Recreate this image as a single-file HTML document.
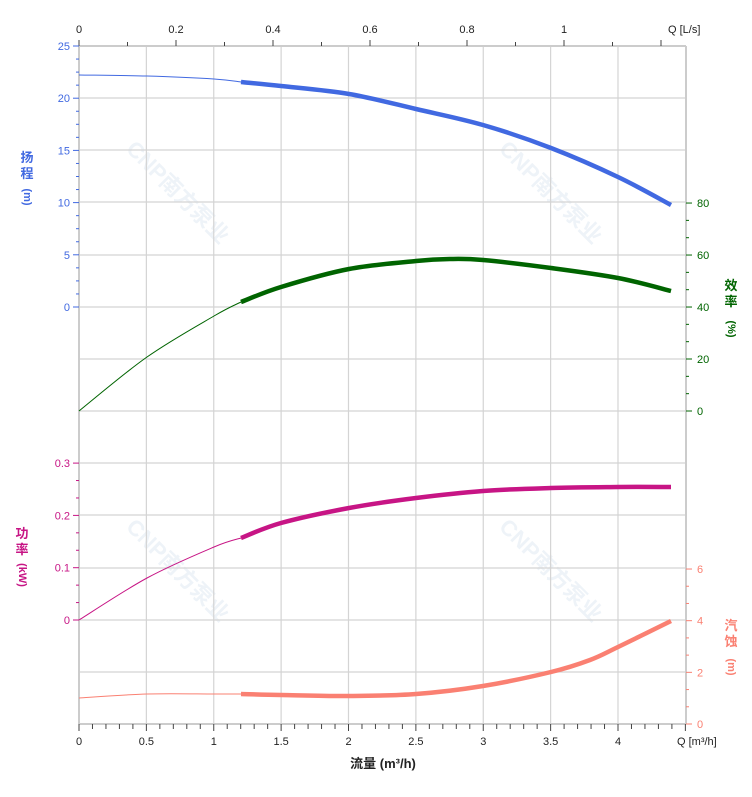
<!DOCTYPE html>
<html><head><meta charset="utf-8"><style>
body{margin:0;background:#fff;}
svg{display:block;font-family:"Liberation Sans","Noto Sans CJK SC",sans-serif;}
</style></head><body>
<svg id="s" width="752" height="797" viewBox="0 0 752 797" xmlns="http://www.w3.org/2000/svg">
<g id="wm" fill="#eef3f8" font-size="22" font-weight="bold">
<text transform="translate(125,150) rotate(45)">CNP南方泵业</text>
<text transform="translate(498,150) rotate(45)">CNP南方泵业</text>
<text transform="translate(125,528) rotate(45)">CNP南方泵业</text>
<text transform="translate(498,528) rotate(45)">CNP南方泵业</text>
</g>
<g id="grid" stroke="#d4d4d4" stroke-width="1.2"></g>
<g id="ax"></g>
<g id="curves" fill="none" stroke-linecap="butt"></g>
<g font-size="13" font-weight="bold">
<text x="27" y="162" fill="#4169e1" text-anchor="middle">扬</text>
<text x="27" y="178" fill="#4169e1" text-anchor="middle">程</text>
<text x="27" y="200" fill="#4169e1" text-anchor="middle" font-size="11" transform="rotate(90 27 197)">(m)</text>
<text x="22" y="538" fill="#c71585" text-anchor="middle">功</text>
<text x="22" y="554" fill="#c71585" text-anchor="middle">率</text>
<text x="22" y="578" fill="#c71585" text-anchor="middle" font-size="11" transform="rotate(90 22 575)">(kW)</text>
<text x="731" y="290" fill="#006400" text-anchor="middle">效</text>
<text x="731" y="306" fill="#006400" text-anchor="middle">率</text>
<text x="731" y="332" fill="#006400" text-anchor="middle" font-size="11" transform="rotate(90 731 329)">(%)</text>
<text x="731" y="630" fill="#fa8072" text-anchor="middle">汽</text>
<text x="731" y="646" fill="#fa8072" text-anchor="middle">蚀</text>
<text x="731" y="670" fill="#fa8072" text-anchor="middle" font-size="11" transform="rotate(90 731 667)">(m)</text>
<text x="383" y="768" fill="#222" text-anchor="middle">流量 (m³/h)</text>
</g>
</svg>
<script>
const NS="http://www.w3.org/2000/svg";
function el(p,t,a,txt){const e=document.createElementNS(NS,t);for(const k in a)e.setAttribute(k,a[k]);if(txt!==undefined)e.textContent=txt;document.getElementById(p).appendChild(e);return e;}
const X=q=>79+q*134.75;
[46,98,150,202,255,307,359,411,463,515,568,620,672].forEach(y=>el('grid','line',{x1:79,x2:686,y1:y,y2:y}));
for(let i=1;i<=8;i++){const x=X(i*0.5);el('grid','line',{x1:x,x2:x,y1:46,y2:724});}
el('ax','line',{x1:79,x2:79,y1:46,y2:724,stroke:'#ccc','stroke-width':2});
el('ax','line',{x1:686,x2:686,y1:46,y2:724,stroke:'#ccc','stroke-width':2});
el('ax','line',{x1:79,x2:686,y1:46,y2:46,stroke:'#ccc','stroke-width':2});
el('ax','line',{x1:79,x2:686,y1:724,y2:724,stroke:'#ccc','stroke-width':2});
for(let i=0;i<=45;i++){const x=X(i*0.1);el('ax','line',{x1:x,x2:x,y1:724,y2:i%5==0?731:729,stroke:'#444','stroke-width':1});}
['0','0.5','1','1.5','2','2.5','3','3.5','4'].forEach((t,i)=>el('ax','text',{x:X(i*0.5),y:745,'font-size':11,fill:'#222','text-anchor':'middle'},t));
el('ax','text',{x:677,y:745,'font-size':11,fill:'#222'},'Q [m³/h]');
for(let i=0;i<=12;i++){const x=79+i*48.5;el('ax','line',{x1:x,x2:x,y1:46,y2:i%2==0?40:42,stroke:'#444','stroke-width':1});}
['0','0.2','0.4','0.6','0.8','1'].forEach((t,i)=>el('ax','text',{x:79+i*97,y:33,'font-size':11,fill:'#222','text-anchor':'middle'},t));
el('ax','text',{x:668,y:33,'font-size':11,fill:'#222'},'Q [L/s]');
for(let i=0;i<=20;i++){const v=i*1.25,y=307-v*10.44;el('ax','line',{x1:i%4==0?73:76,x2:79,y1:y,y2:y,stroke:'#4169e1','stroke-width':1});if(i%4==0)el('ax','text',{x:70,y:y+4,'font-size':11,fill:'#4169e1','text-anchor':'end'},String(v));}
for(let i=0;i<=9;i++){const v=i/30,y=620-v*523;el('ax','line',{x1:i%3==0?73:76,x2:79,y1:y,y2:y,stroke:'#c71585','stroke-width':1});if(i%3==0)el('ax','text',{x:70,y:y+4,'font-size':11,fill:'#c71585','text-anchor':'end'},i==0?'0':(v.toFixed(1)));}
for(let i=0;i<=12;i++){const y=411-i*17.33;el('ax','line',{x1:686,x2:i%3==0?692:689,y1:y,y2:y,stroke:'#006400','stroke-width':1});if(i%3==0)el('ax','text',{x:697,y:y+4,'font-size':11,fill:'#006400'},String(i/3*20));}
for(let i=0;i<=9;i++){const y=724-i*17.22;el('ax','line',{x1:686,x2:i%3==0?692:689,y1:y,y2:y,stroke:'#fa8072','stroke-width':1});if(i%3==0)el('ax','text',{x:697,y:y+4,'font-size':11,fill:'#fa8072'},String(i/3*2));}
function path(pts){let d='M'+pts[0][0]+','+pts[0][1];for(let i=0;i<pts.length-1;i++){const p0=pts[Math.max(0,i-1)],p1=pts[i],p2=pts[i+1],p3=pts[Math.min(pts.length-1,i+2)];const c1=[p1[0]+(p2[0]-p0[0])/6,p1[1]+(p2[1]-p0[1])/6],c2=[p2[0]-(p3[0]-p1[0])/6,p2[1]-(p3[1]-p1[1])/6];d+=` C${c1[0].toFixed(1)},${c1[1].toFixed(1)} ${c2[0].toFixed(1)},${c2[1].toFixed(1)} ${p2[0]},${p2[1]}`;}return d;}
function curve(thin,thick,col){el('curves','path',{d:path(thin),stroke:col,'stroke-width':1});el('curves','path',{d:path(thick),stroke:col,'stroke-width':4.5});}
curve([[79,75],[147,76],[214,79],[241,82]],[[241,82],[281,86],[349,94],[416,109],[483,125],[551,148],[618,177],[671,205]],'#4169e1');
curve([[79,411],[147,357],[214,316],[241,302]],[[241,302],[281,287],[349,269],[416,261],[450,259],[483,260],[551,268],[618,278],[671,291]],'#006400');
curve([[79,620],[147,578],[214,547],[241,538]],[[241,538],[281,523],[349,508],[416,498],[483,491],[551,488],[618,487],[671,487]],'#c71585');
curve([[79,698],[147,694],[214,694],[241,694]],[[241,694],[281,695],[349,696],[416,694],[483,686],[551,672],[590,660],[618,647],[671,621]],'#fa8072');
</script>
</body></html>
